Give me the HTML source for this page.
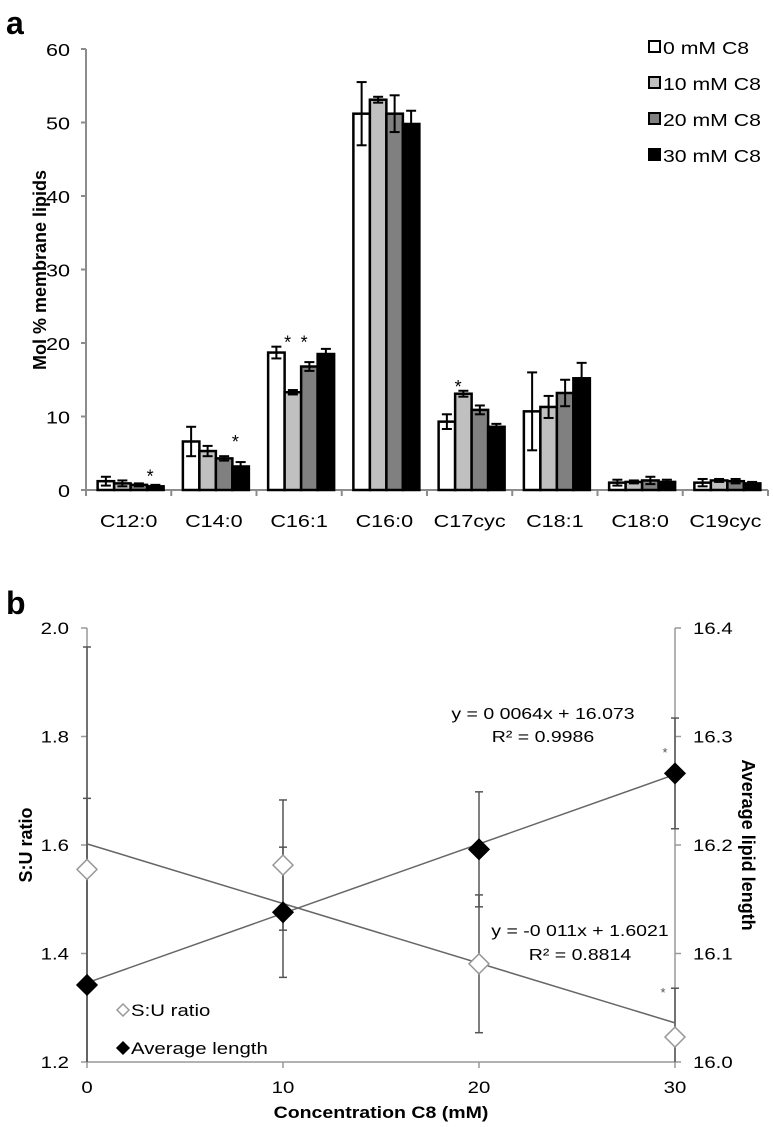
<!DOCTYPE html>
<html><head><meta charset="utf-8"><style>
body{margin:0;background:#fff;}
svg{display:block;font-family:"Liberation Sans",Arial,sans-serif;}
</style></head><body>
<svg id="chart" width="773" height="1127" viewBox="0 0 773 1127" xmlns="http://www.w3.org/2000/svg">
<text x="6" y="34" font-size="32" font-weight="bold">a</text>
<text x="6" y="614" font-size="32" font-weight="bold">b</text>
<g id="pa"></g>
<g id="pb"></g>
</svg>
<script>
// ---- Panel a data ----
const categories = ["C12:0","C14:0","C16:1","C16:0","C17cyc","C18:1","C18:0","C19cyc"];
const seriesNames = ["0 mM C8","10 mM C8","20 mM C8","30 mM C8"];
const s0 = [1.2, 6.6, 18.7, 51.2, 9.3, 10.7, 1.0, 1.0];
const s10 = [0.9, 5.3, 13.3, 53.1, 13.1, 11.3, 1.1, 1.3];
const s20 = [0.7, 4.3, 16.8, 51.2, 10.9, 13.2, 1.3, 1.2];
const s30 = [0.5, 3.2, 18.5, 49.8, 8.6, 15.2, 1.1, 0.9];
const e0 = [0.6, 2.0, 0.8, 4.3, 1.0, 5.3, 0.4, 0.5];
const e10 = [0.4, 0.7, 0.3, 0.4, 0.4, 1.5, 0.2, 0.2];
const e20 = [0.2, 0.3, 0.6, 2.5, 0.6, 1.8, 0.5, 0.3];
const e30 = [0.2, 0.6, 0.7, 1.8, 0.4, 2.1, 0.3, 0.2];
const stars = [[0,3],[1,3],[2,1],[2,2],[4,1]];
const yTicksA = [0,10,20,30,40,50,60];

// ---- Panel b data ----
const conc = [0,10,20,30];
const suRatio = [1.555, 1.563, 1.381, 1.246];
const suErr = [0.41, 0.12, 0.127, 0.09];
const avgLen = [16.071, 16.138, 16.196, 16.266];
const lenErr = [0.172, 0.06, 0.053, 0.051];
const suFit = [1.6021, -0.011];
const lenFit = [16.073, 0.0064];
const xTicksB = [0,10,20,30];
const yTicksL = [1.2,1.4,1.6,1.8,2.0];
const yTicksR = [16.0,16.1,16.2,16.3,16.4];

const NS="http://www.w3.org/2000/svg";
function mk(tag, attrs, parent, txt){const e=document.createElementNS(NS,tag);for(const k in attrs)e.setAttribute(k,attrs[k]);if(txt!==undefined)e.textContent=txt;parent.appendChild(e);return e;}
function tx(parent,x,y,str,size,anchor,weight,sx){
  return mk('text',{x:0,y:0,'font-size':size,'text-anchor':anchor||'start','font-weight':weight||'normal',transform:`translate(${x},${y}) scale(${sx||1.2},1)`},parent,str);
}

// ===== Panel a =====
const pa=document.getElementById('pa');
const ax0=86, ax1=768, ayTop=49, ay0=490, yMaxA=60;
const ya=v=>ay0-(v/yMaxA)*(ay0-ayTop);
const catW=(ax1-ax0)/categories.length;
const xc=i=>ax0+catW*(i+0.5)+2;
const barW=16.5;
const fills=["#ffffff","#c0c0c0","#808080","#000000"];
const vals=[s0,s10,s20,s30], errs=[e0,e10,e20,e30];
let l=mk('line',{x1:ax0,y1:ayTop,x2:ax0,y2:ay0,stroke:'#8c8c8c','stroke-width':2},pa);


l=mk('line',{x1:ax0-5,y1:ay0,x2:ax1,y2:ay0,stroke:'#8c8c8c','stroke-width':2},pa);


yTicksA.forEach(v=>{
  mk('line',{x1:ax0-5,y1:ya(v),x2:ax0,y2:ya(v),stroke:'#8c8c8c','stroke-width':2},pa);
  const t=tx(pa,ax0-16,ya(v)+7,String(v),18,'end');
  
  
});
for(let i=0;i<=categories.length;i++){
  const x=ax0+catW*i;
  mk('line',{x1:x,y1:ay0,x2:x,y2:ay0+6,stroke:'#8c8c8c','stroke-width':2},pa);
}
categories.forEach((c,i)=>{
  const t=tx(pa,ax0+catW*(i+0.5),527,c,18,'middle');
  
  
  for(let s=0;s<4;s++){
    const x=xc(i)-2*barW+s*barW;
    const v=vals[s][i], e=errs[s][i];
    const r=mk('rect',{x:x,y:ya(v),width:barW,height:ay0-ya(v),fill:fills[s],stroke:'#000','stroke-width':2.5},pa);
    
    
    const cx=x+barW/2;
    mk('line',{x1:cx,y1:ya(v+e),x2:cx,y2:ya(v-e),stroke:'#000','stroke-width':2},pa);
    mk('line',{x1:cx-5,y1:ya(v+e),x2:cx+5,y2:ya(v+e),stroke:'#000','stroke-width':2},pa);
    mk('line',{x1:cx-5,y1:ya(v-e),x2:cx+5,y2:ya(v-e),stroke:'#000','stroke-width':2},pa);
  }
});
stars.forEach(([i,s])=>{
  const x=xc(i)-2*barW+s*barW+3;
  let top=0;
  for(let k=Math.max(0,s-2);k<=s;k++) top=Math.max(top,vals[k][i]+errs[k][i]);
  const t=mk('text',{x:x,y:ya(top)+2,'text-anchor':'middle','font-size':18},pa,'*');
  
  
});
let t=mk('text',{x:0,y:0,'text-anchor':'middle','font-size':18,'font-weight':'bold',transform:'translate(46,270) rotate(-90)'},pa,'Mol % membrane lipids');


seriesNames.forEach((n,s)=>{
  const y=47+s*36;
  const r=mk('rect',{x:649,y:y-6,width:11,height:11,fill:fills[s],stroke:'#000','stroke-width':2},pa);
  
  
  const tt=tx(pa,663,y+7,n,18,'start','normal',1.18);
  
  
});

// ===== Panel b =====
const pb=document.getElementById('pb');
const bx0=87, bx1=675, byTop=628, by0=1062;
const xb=v=>bx0+(v/30)*(bx1-bx0);
const yl=v=>by0-(v-1.2)/0.8*(by0-byTop);
const yr=v=>by0-(v-16.0)/0.4*(by0-byTop);
l=mk('line',{x1:bx0,y1:byTop,x2:bx0,y2:by0,stroke:'#999','stroke-width':1.5},pb);


l=mk('line',{x1:bx1,y1:byTop,x2:bx1,y2:by0,stroke:'#999','stroke-width':1.5},pb);


l=mk('line',{x1:bx0,y1:by0,x2:bx1,y2:by0,stroke:'#999','stroke-width':1.5},pb);


yTicksL.forEach(v=>{
  mk('line',{x1:bx0-6,y1:yl(v),x2:bx0,y2:yl(v),stroke:'#999','stroke-width':1.5},pb);
  const tt=tx(pb,bx0-18,yl(v)+6,v.toFixed(1),17,'end');
  
  
});
yTicksR.forEach(v=>{
  mk('line',{x1:bx1,y1:yr(v),x2:bx1+6,y2:yr(v),stroke:'#999','stroke-width':1.5},pb);
  const tt=tx(pb,bx1+18,yr(v)+6,v.toFixed(1),17,'start');
  
  
});
xTicksB.forEach(v=>{
  mk('line',{x1:xb(v),y1:by0,x2:xb(v),y2:by0+6,stroke:'#999','stroke-width':1.5},pb);
  const tt=tx(pb,xb(v),by0+31,String(v),17,'middle');
  
  
});
function eb(x,y1,y2){
  const a=Math.max(byTop,Math.min(by0,y1)), b=Math.max(byTop,Math.min(by0,y2));
  mk('line',{x1:x,y1:a,x2:x,y2:b,stroke:'#555','stroke-width':1.5},pb);
  [y1,y2].forEach(y=>{if(y>=byTop&&y<=by0)mk('line',{x1:x-4,y1:y,x2:x+4,y2:y,stroke:'#555','stroke-width':1.5},pb);});
}
conc.forEach((c,i)=>{
  eb(xb(c),yl(suRatio[i]+suErr[i]),yl(suRatio[i]-suErr[i]));
  eb(xb(c),yr(avgLen[i]+lenErr[i]),yr(avgLen[i]-lenErr[i]));
});
l=mk('line',{x1:xb(0),y1:yl(suFit[0]),x2:xb(30),y2:yl(suFit[0]+suFit[1]*30),stroke:'#666','stroke-width':1.5},pb);


l=mk('line',{x1:xb(0),y1:yr(lenFit[0]),x2:xb(30),y2:yr(lenFit[0]+lenFit[1]*30),stroke:'#666','stroke-width':1.5},pb);


function dia(x,y,fill,stroke,r){return mk('path',{d:`M${x} ${y-r}L${x+r} ${y}L${x} ${y+r}L${x-r} ${y}Z`,fill:fill,stroke:stroke,'stroke-width':1.5},pb);}
conc.forEach((c,i)=>{
  const d1=dia(xb(c),yl(suRatio[i]),'#fff','#999',10);
  
  
  const d2=dia(xb(c),yr(avgLen[i]),'#000','#000',10);
  
  
});
mk('text',{x:665,y:757,'text-anchor':'middle','font-size':13,fill:'#555'},pb,'*');
mk('text',{x:663,y:997,'text-anchor':'middle','font-size':13,fill:'#555'},pb,'*');
t=tx(pb,543,719,'y = 0 0064x  +  16.073',16,'middle','normal',1.22);


tx(pb,543,742,'R² = 0.9986',16,'middle','normal',1.22);
t=tx(pb,580,936,'y = -0 011x  +  1.6021',16,'middle','normal',1.22);


tx(pb,580,960,'R² = 0.8814',16,'middle','normal',1.22);
dia(123,1010,'#fff','#999',6);
t=tx(pb,131,1016,'S:U ratio',17,'start','normal',1.2);


dia(123,1048,'#000','#000',6);
t=tx(pb,131,1054,'Average length',17,'start','normal',1.2);


t=tx(pb,381,1118,'Concentration C8 (mM)',17,'middle','bold',1.15);


t=mk('text',{x:0,y:0,'text-anchor':'middle','font-size':18,'font-weight':'bold',transform:'translate(32,845) rotate(-90)'},pb,'S:U ratio');


t=mk('text',{x:0,y:0,'text-anchor':'middle','font-size':18,'font-weight':'bold',transform:'translate(742,845) rotate(90)'},pb,'Average lipid length');


</script>
</body></html>
